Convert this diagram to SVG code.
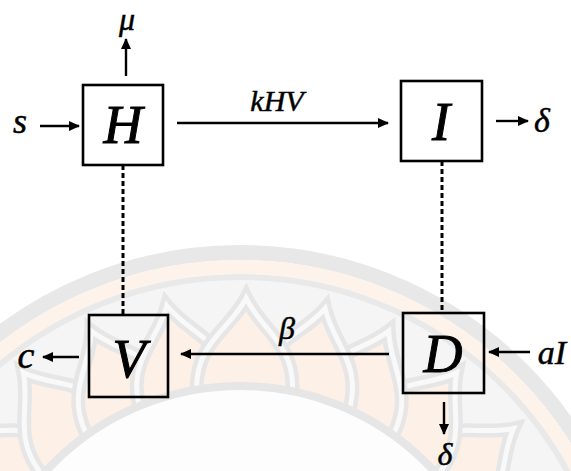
<svg xmlns="http://www.w3.org/2000/svg" width="571" height="471" viewBox="0 0 571 471">
<style>
.box{fill:none;stroke:#000;stroke-width:2.6}
.lbl{font-family:"Liberation Serif","Times New Roman",serif;font-style:italic;fill:#000;text-anchor:middle;stroke:#000;stroke-width:0.5}
.big{font-size:54px;stroke-width:1}
.arr{stroke:#000;stroke-width:2.4;fill:none;marker-end:url(#ah)}
.dash{stroke:#000;stroke-width:3;stroke-dasharray:5 3;fill:none}
.petal{fill:#fdf1e7;stroke:#e6e6e6;stroke-width:14}
.petalgap{fill:none;stroke:#f9f9f9;stroke-width:5}
</style>
<defs>
<marker id="ah" markerUnits="userSpaceOnUse" markerWidth="12" markerHeight="10" refX="10" refY="5" orient="auto">
<path d="M0,0 L11,5 L0,10 Z" fill="#000"/>
</marker>
<path id="pt" d="M-48,-262 C-48,-308 -16,-320 0,-352 C16,-320 48,-308 48,-262"/>
</defs>
<rect width="571" height="471" fill="#fff"/>
<g id="watermark">
<circle cx="240" cy="650" r="397.5" fill="none" stroke="#e8e8e8" stroke-width="15"/>
<circle cx="240" cy="650" r="383" fill="none" stroke="#fdf3ea" stroke-width="14"/>
<circle cx="240" cy="650" r="373" fill="#f5f5f5" stroke="#e9e9e9" stroke-width="6"/>
<g transform="translate(240,650)">
<g transform="rotate(-77)"><use href="#pt" class="petal"/><use href="#pt" class="petalgap"/></g>
<g transform="rotate(77)"><use href="#pt" class="petal"/><use href="#pt" class="petalgap"/></g>
<g transform="rotate(-64)"><use href="#pt" class="petal"/><use href="#pt" class="petalgap"/></g>
<g transform="rotate(64)"><use href="#pt" class="petal"/><use href="#pt" class="petalgap"/></g>
<g transform="rotate(-51)"><use href="#pt" class="petal"/><use href="#pt" class="petalgap"/></g>
<g transform="rotate(51)"><use href="#pt" class="petal"/><use href="#pt" class="petalgap"/></g>
<g transform="rotate(-38)"><use href="#pt" class="petal"/><use href="#pt" class="petalgap"/></g>
<g transform="rotate(38)"><use href="#pt" class="petal"/><use href="#pt" class="petalgap"/></g>
<g transform="rotate(-25)"><use href="#pt" class="petal"/><use href="#pt" class="petalgap"/></g>
<g transform="rotate(25)"><use href="#pt" class="petal"/><use href="#pt" class="petalgap"/></g>
<g transform="rotate(-12)"><use href="#pt" class="petal"/><use href="#pt" class="petalgap"/></g>
<g transform="rotate(14)"><use href="#pt" class="petal"/><use href="#pt" class="petalgap"/></g>
<g transform="rotate(1)"><use href="#pt" class="petal"/><use href="#pt" class="petalgap"/></g>
</g>
<circle cx="240" cy="650" r="264" fill="#fdfdfd" stroke="#e6e6e6" stroke-width="8"/>
</g>
<g id="connectors">
<line class="dash" x1="123" y1="165" x2="123" y2="315"/>
<line class="dash" x1="442" y1="161" x2="442" y2="313"/>
<line class="arr" x1="126" y1="76" x2="126" y2="39"/>
<line class="arr" x1="40" y1="126" x2="79" y2="126"/>
<line class="arr" x1="177" y1="123" x2="388" y2="123"/>
<line class="arr" x1="496" y1="121" x2="528" y2="121"/>
<line class="arr" x1="79" y1="357" x2="43" y2="357"/>
<line class="arr" x1="389" y1="354" x2="181" y2="354"/>
<line class="arr" x1="530" y1="352" x2="489" y2="352"/>
<line class="arr" x1="444" y1="402" x2="444" y2="434"/>
<text class="lbl" x="127" y="30" font-size="32">μ</text>
<text class="lbl" x="20" y="133" font-size="36">s</text>
<text class="lbl" x="277" y="111" font-size="30">kHV</text>
<text class="lbl" x="542" y="132" font-size="34">δ</text>
<text class="lbl" x="26" y="368" font-size="38">c</text>
<text class="lbl" x="287" y="339" font-size="32">β</text>
<text class="lbl" x="552" y="364" font-size="34">aI</text>
<text class="lbl" x="445" y="465" font-size="32">δ</text>
</g>
<g id="H"><rect class="box" x="83" y="85" width="80" height="80"/><text class="lbl big" x="123" y="143">H</text></g>
<g id="I"><rect class="box" x="401" y="81" width="81" height="80"/><text class="lbl big" x="441" y="140">I</text></g>
<g id="V"><rect class="box" x="89" y="315" width="79" height="82"/><text class="lbl big" x="129" y="377">V</text></g>
<g id="D"><rect class="box" x="403" y="313" width="81" height="80"/><text class="lbl big" x="443" y="372">D</text></g>
</svg>
